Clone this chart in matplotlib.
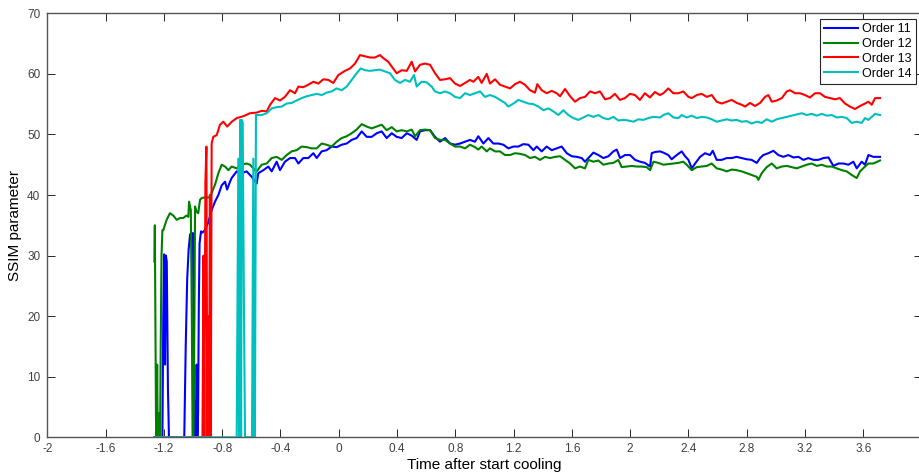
import numpy as np
import matplotlib
matplotlib.use('Agg')
import matplotlib.pyplot as plt

plt.rcParams['font.family'] = ['Liberation Sans', 'DejaVu Sans']

# Order 11
t11 = [-1.265, -1.21, -1.204, -1.198, -1.192, -1.186, -1.18, -1.172, -1.165, -1.06,
       -1.05, -1.04, -1.03, -1.02, -1.01, -1.0, -0.995, -0.99, -0.985, -0.98,
       -0.975, -0.97, -0.965, -0.96, -0.955, -0.945, -0.935, -0.918, -0.895, -0.872,
       -0.849, -0.826, -0.803, -0.780, -0.766, -0.746, -0.735, -0.700, -0.666, -0.632,
       -0.597, -0.563, -0.552, -0.517, -0.483, -0.460, -0.426, -0.403, -0.369, -0.334,
       -0.300, -0.277, -0.243, -0.209, -0.174, -0.151, -0.117, -0.083, -0.048, -0.014,
       0.020, 0.055, 0.089, 0.123, 0.158, 0.192, 0.226, 0.261, 0.295, 0.329,
       0.364, 0.398, 0.432, 0.467, 0.501, 0.535, 0.558, 0.592, 0.627, 0.661,
       0.695, 0.730, 0.764, 0.798, 0.833, 0.867, 0.901, 0.935, 0.958, 0.993,
       1.027, 1.061, 1.096, 1.130, 1.164, 1.199, 1.233, 1.267, 1.302, 1.336,
       1.359, 1.393, 1.427, 1.462, 1.496, 1.530, 1.565, 1.599, 1.633, 1.668,
       1.690, 1.713, 1.748, 1.782, 1.816, 1.851, 1.885, 1.908, 1.931, 1.965,
       1.999, 2.034, 2.068, 2.102, 2.137, 2.148, 2.171, 2.205, 2.228, 2.262,
       2.285, 2.320, 2.354, 2.377, 2.400, 2.423, 2.446, 2.480, 2.514, 2.548,
       2.567, 2.594, 2.628, 2.663, 2.697, 2.731, 2.766, 2.800, 2.834, 2.869,
       2.892, 2.914, 2.949, 2.983, 3.017, 3.052, 3.086, 3.120, 3.155, 3.189,
       3.223, 3.258, 3.292, 3.326, 3.361, 3.395, 3.429, 3.464, 3.498, 3.532,
       3.555, 3.589, 3.612, 3.635, 3.669, 3.715]
v11 = [0, 0, 20, 30.2, 12, 30, 29, 8, 0, 0,
       15, 26, 31, 33.5, 33.7, 33.7, 10, 0, 6, 0,
       12, 0, 4, 22, 32, 34, 33.8, 34.2, 35.5, 37.5,
       38.9, 40.0, 41.6, 42.2, 40.9, 42.2, 42.8, 43.9, 43.6, 43.9,
       43.0, 41.9, 43.6, 44.1, 44.7, 43.9, 45.5, 44.1, 45.5, 46.1,
       46.1, 45.2, 46.1, 46.1, 46.9, 46.1, 47.2, 47.4, 48.0, 47.9,
       48.3, 48.5, 49.1, 49.4, 50.5, 49.6, 49.6, 50.2, 50.5, 49.4,
       50.2, 49.6, 49.4, 50.2, 49.8, 49.1, 50.5, 50.7, 50.7, 49.6,
       48.8, 49.4, 48.5, 48.3, 48.5, 48.8, 49.1, 48.8, 49.7, 48.5,
       49.4, 48.5, 48.5, 48.3, 47.7, 48.0, 48.0, 48.4, 48.3, 47.4,
       48.0, 47.2, 48.0, 47.4, 47.7, 48.0, 46.9, 46.4, 46.3, 46.1,
       45.5, 46.1, 47.0, 46.6, 46.1, 46.4, 47.2, 47.5, 46.1, 46.6,
       46.6, 45.8, 45.5, 45.3, 44.7, 46.9, 47.1, 47.2, 47.0, 46.6,
       45.9, 46.6, 47.2, 46.4, 45.8, 44.4, 45.2, 46.3, 46.9, 46.6,
       47.3, 45.8, 45.8, 46.1, 46.1, 46.3, 46.1, 45.9, 45.8, 45.3,
       46.1, 46.6, 46.9, 47.3, 46.6, 46.3, 46.6, 46.2, 46.3, 45.8,
       46.1, 45.8, 45.8, 46.1, 46.2, 44.8, 45.2, 45.2, 45.0, 45.5,
       44.4, 45.5, 45.0, 46.6, 46.3, 46.3]

# Order 12
t12 = [-1.265, -1.262, -1.258, -1.254, -1.250, -1.246, -1.242, -1.236, -1.232, -1.226,
       -1.222, -1.216, -1.210, -1.204, -1.181, -1.158, -1.135, -1.112, -1.090, -1.067,
       -1.045, -1.032, -1.027, -1.015, -1.008, -1.003, -0.997, -0.990, -0.986, -0.975,
       -0.964, -0.952, -0.940, -0.918, -0.883, -0.861, -0.849, -0.826, -0.803, -0.780,
       -0.757, -0.735, -0.700, -0.666, -0.632, -0.609, -0.575, -0.563, -0.529, -0.494,
       -0.460, -0.426, -0.391, -0.357, -0.323, -0.289, -0.254, -0.220, -0.186, -0.151,
       -0.117, -0.083, -0.048, -0.014, 0.020, 0.055, 0.089, 0.123, 0.158, 0.192,
       0.226, 0.261, 0.295, 0.329, 0.364, 0.398, 0.432, 0.467, 0.501, 0.524,
       0.558, 0.592, 0.627, 0.661, 0.695, 0.730, 0.764, 0.798, 0.833, 0.867,
       0.901, 0.935, 0.958, 0.981, 1.016, 1.038, 1.073, 1.107, 1.141, 1.176,
       1.210, 1.244, 1.279, 1.313, 1.347, 1.382, 1.416, 1.450, 1.485, 1.519,
       1.553, 1.588, 1.622, 1.656, 1.690, 1.713, 1.748, 1.782, 1.816, 1.851,
       1.885, 1.919, 1.942, 1.976, 2.011, 2.045, 2.079, 2.114, 2.137, 2.160,
       2.194, 2.228, 2.262, 2.297, 2.331, 2.365, 2.388, 2.423, 2.457, 2.491,
       2.526, 2.560, 2.594, 2.628, 2.663, 2.697, 2.731, 2.766, 2.800, 2.834,
       2.869, 2.880, 2.903, 2.937, 2.972, 3.006, 3.040, 3.075, 3.109, 3.143,
       3.178, 3.212, 3.246, 3.281, 3.315, 3.349, 3.384, 3.418, 3.452, 3.486,
       3.521, 3.555, 3.578, 3.612, 3.635, 3.669, 3.715]
v12 = [29, 35, 18, 3, 0, 12, 0, 4, 0, 0,
       14, 30, 34.2, 34.2, 35.9, 37.0, 36.6, 35.9, 36.2, 36.2,
       36.6, 36.4, 38.9, 37.5, 20, 0, 0, 20, 38.1, 37.2,
       37.0, 39.2, 39.5, 39.6, 39.6, 41.0, 41.7, 43.6, 45.0, 44.7,
       44.1, 44.7, 44.4, 45.0, 45.2, 45.0, 44.1, 43.9, 45.0, 45.2,
       46.1, 46.3, 45.8, 46.6, 47.2, 47.4, 48.0, 47.9, 47.7, 47.7,
       48.5, 48.3, 48.0, 48.8, 49.4, 49.7, 50.2, 50.8, 51.7, 51.3,
       51.0, 51.3, 51.6, 50.7, 51.2, 50.5, 50.7, 50.5, 50.8, 49.7,
       50.7, 50.8, 50.7, 49.4, 49.1, 49.1, 48.5, 48.0, 48.0, 47.7,
       48.3, 47.9, 47.5, 48.0, 47.2, 47.7, 47.2, 47.2, 46.6, 46.6,
       46.9, 46.8, 46.6, 46.1, 46.3, 45.8, 46.3, 46.1, 46.3, 46.4,
       45.8, 45.2, 44.4, 44.7, 44.4, 45.8, 45.5, 45.7, 45.0, 45.2,
       45.3, 45.8, 44.6, 44.7, 44.8, 44.7, 44.7, 44.6, 44.1, 45.5,
       45.3, 45.0, 45.1, 45.2, 45.3, 45.5, 45.0, 44.1, 44.6, 44.7,
       44.8, 45.2, 44.4, 44.2, 43.9, 44.2, 44.1, 43.9, 43.6, 43.3,
       43.0, 42.5, 43.6, 44.6, 45.2, 44.4, 44.7, 44.8, 44.6, 44.4,
       44.7, 45.0, 45.2, 44.8, 45.0, 44.7, 44.7, 44.4, 44.1, 43.9,
       43.3, 42.8, 43.9, 44.7, 45.2, 45.2, 45.7]

# Order 13
t13 = [-1.265, -0.935, -0.928, -0.922, -0.915, -0.908, -0.902, -0.896, -0.890, -0.884,
       -0.878, -0.872, -0.861, -0.837, -0.815, -0.792, -0.765, -0.734, -0.700, -0.655,
       -0.609, -0.563, -0.529, -0.494, -0.471, -0.437, -0.403, -0.369, -0.334, -0.300,
       -0.277, -0.243, -0.209, -0.174, -0.140, -0.106, -0.071, -0.037, -0.003, 0.043,
       0.078, 0.112, 0.146, 0.181, 0.215, 0.249, 0.283, 0.306, 0.340, 0.364,
       0.398, 0.432, 0.467, 0.501, 0.524, 0.558, 0.592, 0.627, 0.661, 0.695,
       0.730, 0.764, 0.798, 0.833, 0.867, 0.901, 0.924, 0.958, 0.981, 1.016,
       1.038, 1.073, 1.107, 1.141, 1.176, 1.210, 1.244, 1.278, 1.313, 1.347,
       1.363, 1.393, 1.428, 1.462, 1.496, 1.519, 1.553, 1.588, 1.622, 1.656,
       1.690, 1.725, 1.759, 1.793, 1.828, 1.862, 1.896, 1.930, 1.964, 1.999,
       2.033, 2.067, 2.101, 2.136, 2.170, 2.204, 2.228, 2.262, 2.296, 2.331,
       2.365, 2.400, 2.423, 2.457, 2.491, 2.526, 2.560, 2.594, 2.629, 2.663,
       2.697, 2.732, 2.766, 2.789, 2.823, 2.857, 2.892, 2.926, 2.949, 2.972,
       3.006, 3.041, 3.075, 3.097, 3.132, 3.166, 3.200, 3.234, 3.269, 3.303,
       3.337, 3.372, 3.406, 3.440, 3.475, 3.509, 3.543, 3.578, 3.612, 3.635,
       3.658, 3.681, 3.715]
v13 = [0, 0, 30, 0, 42, 48, 0, 20, 0, 40,
       0, 48.5, 49.6, 49.9, 51.6, 52.1, 51.3, 52.1, 52.7, 53.0,
       53.5, 53.6, 53.9, 53.8, 54.9, 56.0, 55.6, 56.2, 57.3, 56.8,
       57.9, 57.8, 58.2, 58.7, 58.4, 59.1, 59.0, 58.5, 59.8, 60.5,
       60.9, 61.7, 63.1, 62.9, 62.7, 62.7, 63.1, 62.6, 62.0, 61.2,
       60.1, 60.6, 60.5, 62.0, 60.4, 61.5, 61.7, 61.5, 60.1, 59.0,
       59.1, 59.3, 58.4, 58.0, 58.5, 59.0, 58.7, 59.5, 58.5, 60.0,
       58.4, 59.1, 58.2, 57.9, 57.6, 58.3, 58.7, 58.2, 57.3, 56.9,
       58.3, 57.3, 56.8, 57.2, 56.8, 56.3, 57.5, 56.3, 55.4, 56.0,
       56.2, 57.1, 56.8, 57.1, 55.8, 56.0, 56.7, 55.7, 56.0, 56.7,
       56.5, 55.7, 56.8, 56.1, 57.0, 56.5, 56.8, 57.6, 56.8, 56.8,
       57.1, 56.2, 56.0, 56.5, 56.7, 56.2, 56.5, 55.4, 55.1, 55.4,
       55.7, 55.2, 54.9, 54.6, 55.2, 54.7, 55.2, 56.2, 56.5, 55.4,
       55.6, 56.0, 57.1, 57.3, 56.8, 56.8, 56.5, 56.1, 56.8, 56.8,
       56.2, 56.0, 55.8, 56.0, 55.1, 54.6, 54.2, 54.7, 55.1, 55.4,
       54.9, 56.0, 56.0]

# Order 14
t14 = [-1.265, -0.700, -0.689, -0.684, -0.676, -0.670, -0.665, -0.659, -0.650, -0.643,
       -0.595, -0.586, -0.580, -0.575, -0.568, -0.563, -0.529, -0.494, -0.460, -0.426,
       -0.391, -0.357, -0.323, -0.289, -0.254, -0.220, -0.186, -0.151, -0.117, -0.083,
       -0.048, -0.014, 0.020, 0.055, 0.089, 0.123, 0.151, 0.180, 0.215, 0.249,
       0.283, 0.318, 0.352, 0.386, 0.421, 0.455, 0.489, 0.517, 0.535, 0.569,
       0.604, 0.638, 0.661, 0.695, 0.730, 0.764, 0.798, 0.833, 0.867, 0.901,
       0.935, 0.970, 1.004, 1.038, 1.073, 1.107, 1.141, 1.164, 1.199, 1.233,
       1.267, 1.302, 1.336, 1.370, 1.405, 1.439, 1.473, 1.507, 1.542, 1.576,
       1.610, 1.645, 1.679, 1.713, 1.748, 1.782, 1.816, 1.851, 1.885, 1.919,
       1.954, 1.988, 2.022, 2.057, 2.091, 2.125, 2.160, 2.205, 2.228, 2.262,
       2.297, 2.331, 2.354, 2.388, 2.423, 2.457, 2.491, 2.526, 2.560, 2.594,
       2.628, 2.663, 2.697, 2.731, 2.766, 2.800, 2.834, 2.869, 2.903, 2.937,
       2.972, 3.006, 3.040, 3.075, 3.109, 3.143, 3.178, 3.212, 3.246, 3.281,
       3.315, 3.349, 3.384, 3.418, 3.452, 3.486, 3.521, 3.555, 3.589, 3.612,
       3.635, 3.658, 3.681, 3.715]
v14 = [0, 0, 46, 0, 52.4, 0, 52.4, 52, 20, 0,
       0, 46, 0, 0, 53.3, 53.2, 53.2, 53.5, 54.3, 54.5,
       54.6, 55.1, 55.2, 55.6, 56.0, 56.3, 56.5, 56.7, 56.5, 56.9,
       57.1, 57.6, 57.3, 57.9, 59.0, 60.1, 60.9, 60.6, 60.5, 60.6,
       60.7, 60.4, 60.1, 59.0, 58.5, 59.0, 58.7, 59.8, 57.9, 58.7,
       58.6, 57.9, 57.1, 56.8, 57.1, 56.8, 56.2, 56.0, 56.8, 56.5,
       56.8, 57.1, 56.2, 56.5, 56.2, 55.7, 55.2, 54.6, 55.1, 55.7,
       55.4, 55.1, 55.0, 54.6, 54.0, 54.3, 53.8, 53.2, 54.0, 53.2,
       52.7, 52.4, 52.8, 53.2, 52.9, 53.2, 52.7, 52.5, 52.9, 52.3,
       52.4, 52.3, 52.1, 52.5, 52.4, 52.7, 52.9, 52.8, 53.2, 53.5,
       52.8, 52.7, 53.2, 52.8, 53.1, 52.7, 52.9, 52.8, 52.5, 52.1,
       52.3, 52.5, 52.3, 52.4, 52.1, 52.2, 51.8, 52.1, 51.9, 52.5,
       52.1, 52.5, 52.7, 52.9, 53.1, 53.3, 53.5, 53.2, 53.4, 53.1,
       53.4, 53.1, 53.2, 52.8, 52.9, 52.7, 51.9, 52.1, 51.9, 52.7,
       52.4, 52.9, 53.4, 53.2]

labels = ['Order 11', 'Order 12', 'Order 13', 'Order 14']
colors = ['#0000ff', '#008000', '#ff0000', '#00bfbf']

fig = plt.figure(figsize=(9.2, 4.73), dpi=100)
ax = fig.add_axes([0.0514, 0.0755, 0.9503, 0.8964])

for t, v, lab, c in zip([t11, t12, t13, t14], [v11, v12, v13, v14], labels, colors):
    ax.plot(t, v, color=c, lw=1.5, label=lab)

ax.set_xlim(-2, 4)
ax.set_ylim(0, 70)
xt = np.round(np.arange(-2, 4.01, 0.4), 1) + 0.0
ax.set_xticks(xt)
ax.set_xticklabels(['%g' % x for x in xt])
ax.set_yticks(np.arange(0, 71, 10))

ax.tick_params(direction='in', length=6, width=0.7, top=True, right=True,
               color='#262626', labelcolor='#404040', labelsize=8.5)
ax.tick_params(axis='y', pad=5)
ax.tick_params(axis='x', pad=4)
for s in ax.spines.values():
    s.set_color('#555555')
    s.set_linewidth(1.0)

ax.set_xlabel('Time after start cooling', fontsize=11, labelpad=2)
ax.set_ylabel('SSIM parameter', fontsize=11, labelpad=4)

leg = ax.legend(loc='upper right', fontsize=9, fancybox=False, framealpha=1,
                edgecolor='#262626', handlelength=2.7, handletextpad=0.3,
                borderpad=0.35, labelspacing=0.22, borderaxespad=0.45)
leg.get_frame().set_linewidth(0.8)

fig.savefig('out.png', dpi=100)
